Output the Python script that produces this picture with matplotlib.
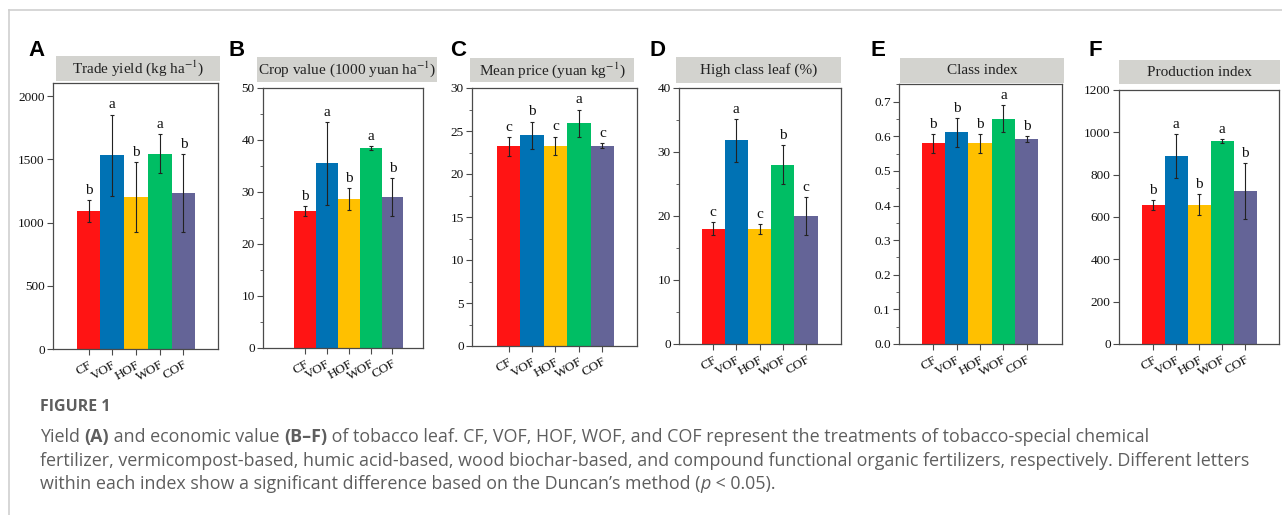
import matplotlib
matplotlib.use("Agg")
import matplotlib.pyplot as plt
from matplotlib.patches import Rectangle
from matplotlib.lines import Line2D
from matplotlib.ticker import MultipleLocator

plt.rcParams['font.family'] = ['Liberation Serif', 'DejaVu Serif']
plt.rcParams['mathtext.fontset'] = 'stix'

W, H = 1282, 515
fig = plt.figure(figsize=(W / 100, H / 100), dpi=100)

treatments = ["CF", "VOF", "HOF", "WOF", "COF"]
bar_colors = ["#FF1414", "#0072B4", "#FFC000", "#00BE64", "#646497"]

yield_mean = [1090, 1531, 1202, 1544, 1233]
yield_err = [88, 322, 278, 152, 305]
yield_letters = ["b", "a", "b", "a", "b"]

value_mean = [26.3, 35.5, 28.6, 38.4, 29.0]
value_err = [1.0, 8.0, 2.1, 0.4, 3.6]
value_letters = ["b", "a", "b", "a", "b"]

price_mean = [23.2, 24.5, 23.3, 25.9, 23.3]
price_err = [1.1, 1.6, 1.05, 1.6, 0.3]
price_letters = ["c", "b", "c", "a", "c"]

high_mean = [18.0, 31.8, 18.0, 28.0, 19.95]
high_err = [1.0, 3.35, 0.75, 3.05, 2.95]
high_letters = ["c", "a", "c", "b", "c"]

class_mean = [0.58, 0.611, 0.58, 0.65, 0.592]
class_err = [0.027, 0.042, 0.027, 0.039, 0.008]
class_letters = ["b", "b", "b", "a", "b"]

prod_mean = [656, 888, 659, 959, 722]
prod_err = [23, 106, 51, 10, 133]
prod_letters = ["b", "a", "b", "a", "b"]

panels = [
    dict(tag="A", title="Trade yield (kg ha$^{-1}$)", mean=yield_mean, err=yield_err, letters=yield_letters,
         ylim=(0, 2103), major=500, minor=None, fmt="{:.0f}",
         ax_px=(53, 218, 83, 349), xlim=(-1.5, 5.46), box=(56, 220, 56, 81), tagx=28),
    dict(tag="B", title="Crop value (1000 yuan ha$^{-1}$)", mean=value_mean, err=value_err, letters=value_letters,
         ylim=(0, 50), major=10, minor=5, fmt="{:.0f}",
         ax_px=(263, 423, 88, 348), xlim=(-1.9, 5.39), box=(257, 437, 57, 82), tagx=228),
    dict(tag="C", title="Mean price (yuan kg$^{-1}$)", mean=price_mean, err=price_err, letters=price_letters,
         ylim=(0, 30), major=5, minor=2.5, fmt="{:.0f}",
         ax_px=(472, 637, 88, 346), xlim=(-1.56, 5.48), box=(470, 634, 58, 82), tagx=450),
    dict(tag="D", title="High class leaf (%)", mean=high_mean, err=high_err, letters=high_letters,
         ylim=(0, 40), major=10, minor=5, fmt="{:.0f}",
         ax_px=(679, 841, 88, 344), xlim=(-1.47, 5.51), box=(676, 841, 57, 83), tagx=650),
    dict(tag="E", title="Class index", mean=class_mean, err=class_err, letters=class_letters,
         ylim=(0, 0.751), major=0.1, minor=0.05, fmt="{:.1f}",
         ax_px=(899, 1062, 84, 344), xlim=(-1.47, 5.51), box=(900, 1064, 58, 83), tagx=870),
    dict(tag="F", title="Production index", mean=prod_mean, err=prod_err, letters=prod_letters,
         ylim=(0, 1200), major=200, minor=None, fmt="{:.0f}",
         ax_px=(1119, 1279, 90, 344), xlim=(-1.48, 5.47), box=(1119, 1280, 60, 84), tagx=1088),
]

spine_col = "#4a4a4a"
for p in panels:
    l, r, t, b = p["ax_px"]
    ax = fig.add_axes([l / W, 1 - b / H, (r - l) / W, (b - t) / H])
    x = list(range(len(treatments)))
    ax.bar(x, p["mean"], width=1.0, color=bar_colors, edgecolor="none", zorder=2)
    ax.errorbar(x, p["mean"], yerr=p["err"], fmt="none", ecolor="#222222", elinewidth=0.8,
                capsize=1.5, capthick=0.8, zorder=3)
    span = p["ylim"][1] - p["ylim"][0]
    for xi, m, e, lt in zip(x, p["mean"], p["err"], p["letters"]):
        ax.text(xi, m + e + span * 0.012, lt, ha="center", va="bottom", fontsize=11, color="#111111", zorder=4)
    ax.set_xlim(*p["xlim"])
    ax.set_ylim(*p["ylim"])
    ax.yaxis.set_major_locator(MultipleLocator(p["major"]))
    if p["minor"]:
        ax.yaxis.set_minor_locator(MultipleLocator(p["minor"]))
    ax.set_yticks(ax.get_yticks())
    ax.set_yticklabels([p["fmt"].format(v) for v in ax.get_yticks()])
    ax.set_ylim(*p["ylim"])
    ax.set_xticks(x)
    ax.set_xticklabels(treatments, rotation=30, ha="right", rotation_mode="anchor")
    ax.tick_params(axis="both", which="major", direction="out", length=4, width=0.8,
                   color=spine_col, labelsize=9.5, labelcolor="#111111", pad=2)
    ax.tick_params(axis="y", which="minor", direction="out", length=2, width=0.6, color=spine_col)
    ax.tick_params(axis="x", pad=3)
    for s in ax.spines.values():
        s.set_color(spine_col)
        s.set_linewidth(0.9)
    # title strip
    bl, br, bt, bb = p["box"]
    fig.patches.append(Rectangle((bl / W, 1 - bb / H), (br - bl) / W, (bb - bt) / H,
                                 transform=fig.transFigure, facecolor="#D3D3CF", edgecolor="none"))
    if p["tag"] == "B":
        fig.text((bl + 1) / W, 1 - (bt + bb) / 2 / H, p["title"], ha="left", va="center",
                 fontsize=11, color="#222222")
    else:
        fig.text((bl + br) / 2 / W, 1 - (bt + bb) / 2 / H, p["title"], ha="center", va="center",
                 fontsize=11, color="#222222")
    fig.text(p["tagx"] / W, 1 - 51 / H, p["tag"], ha="left", va="center", fontsize=16,
             fontweight="bold", family=["Liberation Sans", "DejaVu Sans"], color="#000000")

# frame lines
fig.add_artist(Line2D([9 / W, 1], [1 - 10 / H, 1 - 10 / H], transform=fig.transFigure, color="#cfcfcf", lw=1.2))
fig.add_artist(Line2D([9 / W, 9 / W], [0, 1 - 10 / H], transform=fig.transFigure, color="#cfcfcf", lw=1.2))

# caption
cap_font = ["Open Sans", "DejaVu Sans"]
cap_col = "#5e5e5e"
fig.text(40 / W, 1 - 407 / H, "FIGURE 1", ha="left", va="center", fontsize=11.5, fontweight="bold",
         family=cap_font, color=cap_col)

renderer = fig.canvas.get_renderer()

def rich_line(x_px, y_px, parts, size=12.9):
    x = x_px / W
    for txt, weight, style in parts:
        t = fig.text(x, 1 - y_px / H, txt, ha="left", va="center", fontsize=size, family=cap_font,
                     color=cap_col, fontweight=weight, fontstyle=style)
        bb = t.get_window_extent(renderer)
        x = bb.x1 / W

caption_lines = [
    [("Yield ", "normal", "normal"), ("(A)", "bold", "normal"), (" and economic value ", "normal", "normal"),
     ("(B–F)", "bold", "normal"),
     (" of tobacco leaf. CF, VOF, HOF, WOF, and COF represent the treatments of tobacco-special chemical",
      "normal", "normal")],
    [("fertilizer, vermicompost-based, humic acid-based, wood biochar-based, and compound functional organic "
      "fertilizers, respectively. Different letters", "normal", "normal")],
    [("within each index show a significant difference based on the Duncan’s method (", "normal", "normal"),
     ("p", "normal", "italic"), (" < 0.05).", "normal", "normal")],
]
for yy, parts in zip([437, 461, 484], caption_lines):
    rich_line(40, yy, parts)

fig.savefig("out.png", dpi=100)
